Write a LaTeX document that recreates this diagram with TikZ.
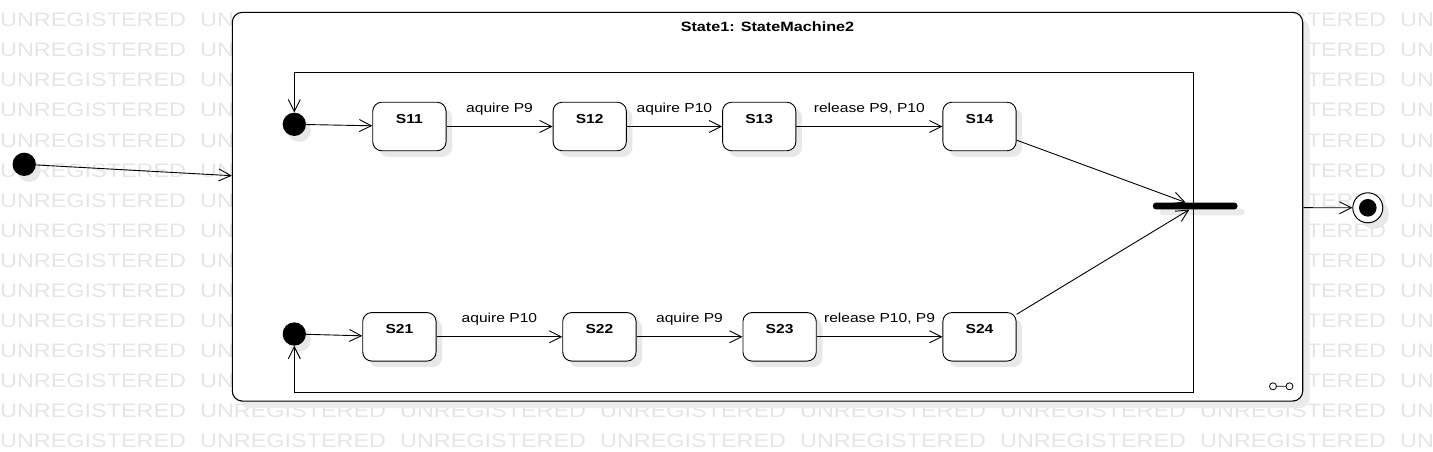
\documentclass[tikz,border=0pt]{standalone}
\usepackage{fontspec}
\setmainfont{Liberation Sans}[FakeStretch=1.2]
\usetikzlibrary{arrows.meta,shadows}

\tikzset{
  flow/.style={draw=black, line width=0.9pt, -{Straight Barb[length=12pt,width=12pt]}},
  lbl/.style={font=\fontsize{13}{15}\selectfont, anchor=base, yshift=14.5pt, inner sep=0pt},
  ustate/.style={draw=black, fill=white, line width=0.9pt, rounded corners=9pt,
    minimum width=73.3pt, minimum height=48.5pt, inner sep=0pt,
    font=\bfseries\fontsize{13}{15}\selectfont, text height=10pt, text depth=16pt,
    drop shadow={shadow xshift=6pt, shadow yshift=-6pt, fill=black!9, opacity=1}},
  initdot/.style={circle, fill=black, minimum size=23.3pt, inner sep=0pt,
    drop shadow={shadow xshift=5pt, shadow yshift=-6pt, fill=black!9, opacity=1}},
  finalst/.style={circle, draw=black, fill=white, line width=1pt, minimum size=30pt, inner sep=0pt,
    path picture={\fill[black] (path picture bounding box.center) circle (8.8pt);},
    drop shadow={shadow xshift=6pt, shadow yshift=-6pt, fill=black!9, opacity=1}},
  joinbar/.style={fill=black, rounded corners=3pt, minimum width=84.6pt, minimum height=6.7pt, inner sep=0pt,
    drop shadow={shadow xshift=7pt, shadow yshift=-6pt, fill=black!8, opacity=1}},
  smbox/.style={draw=black, fill=white, line width=1.1pt, rounded corners=10pt,
    minimum width=1070.4pt, minimum height=388.7pt, inner sep=0pt,
    drop shadow={shadow xshift=7pt, shadow yshift=-7pt, fill=black!8, opacity=1}},
  wmark/.style={font=\fontsize{19.5}{21}\selectfont, text=black!10, anchor=base west, inner sep=0pt}
}

\begin{document}
\begin{tikzpicture}[x=1pt, y=-1pt]
\useasboundingbox (0,0) rectangle (1433,452);

% watermark (only the words the box does not hide)
\foreach \r in {0,...,12}{
  \foreach \c in {0,1,6,7}{
    \node[wmark] (wm-\r-\c) at (200*\c, 27+30*\r) {UNREGISTERED};
  }
}
\foreach \r in {13,14}{
  \foreach \c in {0,...,7}{
    \node[wmark] (wm-\r-\c) at (200*\c, 27+30*\r) {UNREGISTERED};
  }
}

% composite state
\node[smbox] (box) at (767.5,206.7) {};
\node[font=\bfseries\fontsize{13.5}{15}\selectfont, anchor=base, inner sep=0pt] (ttl) at (767.5,32) {State1: StateMachine2};

\node[initdot] (ini0) at (24.2,164.3) {};
\node[initdot] (ini1) at (294.3,124.3) {};
\node[initdot] (ini2) at (294.3,334) {};

\node[ustate] (s11) at (409.4,126.5) {S11};
\node[ustate] (s12) at (589.7,126.5) {S12};
\node[ustate] (s13) at (759.2,126.5) {S13};
\node[ustate] (s14) at (979.5,126.5) {S14};

\node[ustate] (s21) at (399.4,336.8) {S21};
\node[ustate] (s22) at (599.4,336.8) {S22};
\node[ustate] (s23) at (779.6,336.8) {S23};
\node[ustate] (s24) at (979.5,336.8) {S24};

\node[joinbar] (bar) at (1195.2,206) {};
\node[finalst] (fin) at (1367.8,207.8) {};

\coordinate (loopT) at (1193,72.5);
\coordinate (loopB) at (1193,392);

% transitions
\draw[flow] (ini0) -- ([yshift=31pt]box.west);
\draw[flow] (ini1) -- (s11);
\draw[flow] (s11) -- node[lbl] (t11) {aquire P9} (s12);
\draw[flow] (s12) -- node[lbl] (t12) {aquire P10} (s13);
\draw[flow] (s13) -- node[lbl] (t13) {release P9, P10} (s14);
\draw[flow] (ini2) -- (s21);
\draw[flow] (s21) -- node[lbl] (t21) {aquire P10} (s22);
\draw[flow] (s22) -- node[lbl] (t22) {aquire P9} (s23);
\draw[flow] (s23) -- node[lbl] (t23) {release P10, P9} (s24);
\draw[flow] (s14) -- (bar);
\draw[flow] (s24) -- (bar);
\draw[flow] ([xshift=-2.2pt]bar.center) -- (loopT) -| (ini1);
\draw[flow] ([xshift=-2.2pt]bar.center) -- (loopB) -| (ini2);
\draw[flow] (box) -- (fin);

% decomposition icon
\draw[line width=0.8pt] (1273,386.3) circle (3.5pt) (1289.5,386.3) circle (3.5pt)
  (1276.5,386.3) -- (1286,386.3);
\end{tikzpicture}
\end{document}
